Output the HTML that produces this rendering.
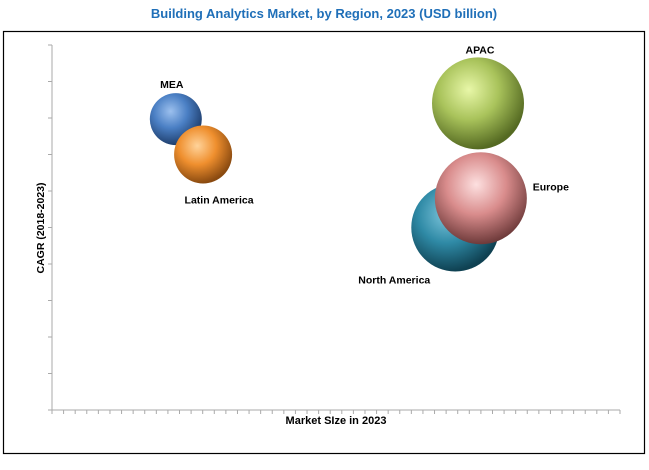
<!DOCTYPE html>
<html><head><meta charset="utf-8"><style>
body{margin:0;background:#fff;width:649px;height:465px;overflow:hidden;font-family:"Liberation Sans",sans-serif}
</style></head><body>
<svg width="649" height="465" id="chart">
<defs>
<radialGradient id="gBlue" cx="40%" cy="35%" r="65%"><stop offset="0" stop-color="#9cc0ee"/><stop offset="0.5" stop-color="#4a7fc4"/><stop offset="1" stop-color="#1f3f6e"/></radialGradient>
<radialGradient id="gOrange" cx="40%" cy="35%" r="65%"><stop offset="0" stop-color="#ffd39a"/><stop offset="0.5" stop-color="#ef8f2e"/><stop offset="1" stop-color="#8a4a10"/></radialGradient>
<radialGradient id="gGreen" cx="40%" cy="35%" r="65%"><stop offset="0" stop-color="#e8f7a8"/><stop offset="0.5" stop-color="#a9c35b"/><stop offset="1" stop-color="#556a22"/></radialGradient>
<radialGradient id="gPink" cx="45%" cy="35%" r="65%"><stop offset="0" stop-color="#fde0e0"/><stop offset="0.5" stop-color="#d98c8c"/><stop offset="1" stop-color="#6e3a3a"/></radialGradient>
<radialGradient id="gTeal" cx="40%" cy="35%" r="65%"><stop offset="0" stop-color="#7fc6dc"/><stop offset="0.5" stop-color="#2f8aa6"/><stop offset="1" stop-color="#0f4152"/></radialGradient>
</defs>
<text x="324" y="18" text-anchor="middle" font-size="13" font-weight="bold" fill="#1f6fb8">Building Analytics Market, by Region, 2023 (USD billion)</text>
<rect x="3.5" y="31.5" width="641" height="422" fill="none" stroke="#000" stroke-width="1.2"/>
<g id="axes"></g>
<g id="bubbles"></g>
<text x="336" y="424" text-anchor="middle" font-size="11" font-weight="bold" fill="#000">Market SIze in 2023</text>
<text transform="translate(44,228) rotate(-90)" text-anchor="middle" font-size="10.5" font-weight="bold" fill="#000">CAGR (2018-2023)</text>
</svg>
<script>
const regions=["North America","Europe","APAC","MEA","Latin America"];
const marketSize=[71,75.5,75,21.8,26.6];
const cagr=[5.0,5.8,8.4,7.97,7.0];
const bubbleSize=[44,46,46,26,29];
const fills=["url(#gTeal)","url(#gPink)","url(#gGreen)","url(#gBlue)","url(#gOrange)"];
const labelOffsets=[[-61,52],[70,-12],[2,-54],[-4,-35],[16,45]];
const X0=52,X1=620,Y0=410,Y1=45;
const xs=v=>X0+(v/100)*(X1-X0);
const ys=v=>Y0-(v/10)*(Y0-Y1);
const NS="http://www.w3.org/2000/svg";
const ax=document.getElementById('axes');
function mk(t,a,p){const e=document.createElementNS(NS,t);for(const k in a)e.setAttribute(k,a[k]);p.appendChild(e);return e;}
let yl=mk('line',{x1:X0,y1:Y1,x2:X0,y2:Y0,stroke:'#aaa'},ax);


let xl=mk('line',{x1:X0,y1:Y0,x2:X1,y2:Y0,stroke:'#aaa'},ax);


for(let i=0;i<=10;i++){const y=ys(i);const t=mk('line',{x1:X0-4,y1:y,x2:X0,y2:y,stroke:'#aaa'},ax);

}
for(let i=0;i<=49;i++){const x=X0+i*(X1-X0)/49;const t=mk('line',{x1:x,y1:Y0,x2:x,y2:Y0+4,stroke:'#aaa'},ax);

}
const bg=document.getElementById('bubbles');
regions.forEach((r,i)=>{
 const cx=xs(marketSize[i]),cy=ys(cagr[i]);
 const c=mk('circle',{cx:cx,cy:cy,r:bubbleSize[i],fill:fills[i]},bg);
 
 
 const t=mk('text',{x:cx+labelOffsets[i][0],y:cy+labelOffsets[i][1]+4,'text-anchor':'middle','font-size':'10.5','font-weight':'bold',fill:'#000'},bg);
 t.textContent=r;
 
 
});
</script>
</body></html>
